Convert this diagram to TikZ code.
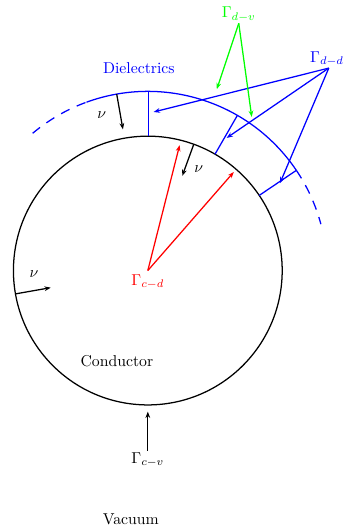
\documentclass[tikz,border=0pt]{standalone}
\usetikzlibrary{arrows.meta}
\begin{document}
\begin{tikzpicture}[>={Stealth[length=4pt,width=3pt]},
  ln/.style={thick},
  nu/.style={thick,->},
  lab/.style={inner sep=1pt}]
\useasboundingbox (-3.30,-5.77) rectangle (4.375,6.04);
% conductor
\draw[ln] (0,0) circle (3);
% dielectric boundary
\draw[ln,blue,dash pattern=on 6pt off 5pt] (130:4) arc (130:110:4);
\draw[ln,blue] (110:4) arc (110:34:4);
\draw[ln,blue,dash pattern=on 6pt off 5pt] (34:4) arc (34:15:4);
% cut lines
\draw[ln,blue] (0.01,3) -- (0.01,4);
\draw[ln,blue] (60:3) -- (60:4);
\draw[ln,blue] (34:3) -- (34:4);
% labels
\node[blue] (diel) at (-0.2,4.52) {Dielectrics};
\node (cond) at (-0.69,-2.02) {Conductor};
\node (vac) at (-0.38,-5.55) {Vacuum};
% Gamma d-d
\coordinate (ddo) at (4.04,4.52);
\node[blue,lab,anchor=south] (dd) at (4.0,4.52) {$\Gamma_{d-d}$};
\draw[ln,blue,->] (ddo) -- (0.13,3.54);
\draw[ln,blue,->] (ddo) -- (1.76,2.96);
\draw[ln,blue,->] (ddo) -- (2.95,1.95);
% Gamma d-v
\coordinate (dvo) at (2.03,5.52);
\node[green,lab,anchor=south] (dv) at (dvo) {$\Gamma_{d-v}$};
\draw[ln,green,->] (dvo) -- (1.54,4.05);
\draw[ln,green,->] (dvo) -- (2.32,3.43);
% Gamma c-d
\coordinate (cdo) at (0,0);
\node[red,lab,anchor=north] (cd) at (0,-0.05) {$\Gamma_{c-d}$};
\draw[ln,red,->] (cdo) -- (0.71,2.80);
\draw[ln,red,->] (cdo) -- (1.92,2.20);
% Gamma c-v
\node[lab] (cv) at (0,-4.23) {$\Gamma_{c-v}$};
\coordinate (cvt) at (0,-3.15);
\draw[ln,->] (cv.north) -- (cvt);
% normals
\coordinate (n1) at (100:4);
\coordinate (n1t) at (100:3.2);
\draw[nu] (n1) -- (n1t);
\node (nu1) at (-1.03,3.47) {$\nu$};
\coordinate (n2) at (70:3);
\coordinate (n2t) at (70:2.25);
\draw[nu] (n2) -- (n2t);
\node (nu2) at (1.14,2.27) {$\nu$};
\coordinate (n3) at (190:3);
\coordinate (n3t) at (190:2.2);
\draw[nu] (n3) -- (n3t);
\node (nu3) at (-2.54,-0.08) {$\nu$};
\end{tikzpicture}
\end{document}
